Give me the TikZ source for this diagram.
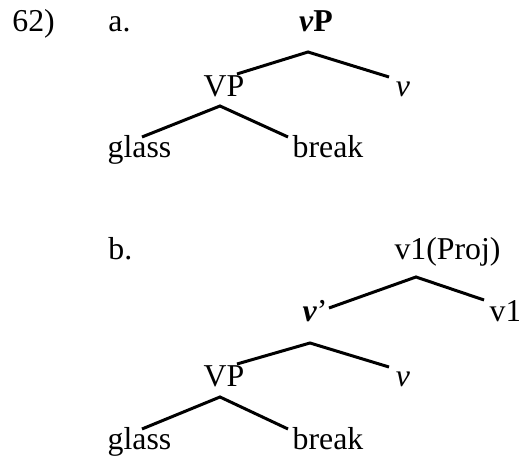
\documentclass[tikz,border=0pt]{standalone}
\usepackage{fontspec}
\setmainfont{Liberation Serif}
\usetikzlibrary{calc}
\tikzset{lbl/.style={inner sep=0pt,anchor=base,font=\fontsize{15.9pt}{19pt}\selectfont},branch/.style={line width=1.5pt}}

\begin{document}
\begin{tikzpicture}[x=0.5pt,y=-0.5pt]
\useasboundingbox (0,0) rectangle (519,458);
\node[lbl,anchor=base west] (num) at (12,32) {62)};
\node[lbl,anchor=base west] (labA) at (108,32) {a.};
\node[lbl] (vPa) at (316,32) {\textbf{\textit{v}P}};
\node[lbl] (VPa) at (224,96.5) {VP};
\node[lbl] (va) at (403,96.5) {\textit{v}};
\node[lbl] (glassa) at (139.5,157.5) {glass};
\node[lbl] (breaka) at (328,157.5) {break};
\draw[branch] ($(VPa.base)+(13,-22.5)$) -- ($(vPa.base)+(-8,20)$) -- ($(va.base)+(-14,-19.5)$);
\draw[branch] ($(glassa.base)+(2.5,-20.5)$) -- ($(VPa.base)+(-4,9.5)$) -- ($(breaka.base)+(-40,-20.5)$);
\node[lbl,anchor=base west] (labB) at (108,260) {b.};
\node[lbl] (proj) at (447.5,260) {v1(Proj)};
\node[lbl] (vbar) at (315,322) {\textbf{\textit{v}}'};
\node[lbl] (vone) at (505.5,322) {v1};
\node[lbl] (VPb) at (224,387) {VP};
\node[lbl] (vb) at (403,387) {\textit{v}};
\node[lbl] (glassb) at (139.5,450) {glass};
\node[lbl] (breakb) at (328,450) {break};
\draw[branch] ($(vbar.base)+(14,-14)$) -- ($(proj.base)+(-31.5,17)$) -- ($(vone.base)+(-21.5,-22)$);
\draw[branch] ($(VPb.base)+(13,-23)$) -- ($(vbar.base)+(-5,21)$) -- ($(vb.base)+(-14,-20)$);
\draw[branch] ($(glassb.base)+(2.5,-21)$) -- ($(VPb.base)+(-4,10)$) -- ($(breakb.base)+(-40,-21)$);
\end{tikzpicture}
\end{document}
